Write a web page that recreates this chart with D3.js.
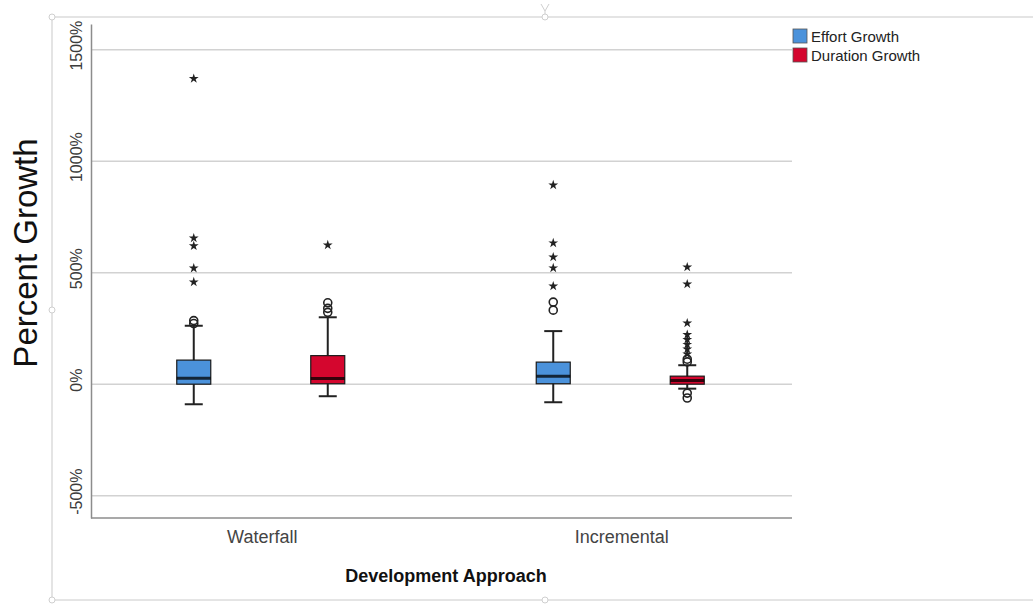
<!DOCTYPE html>
<html>
<head>
<meta charset="utf-8">
<script src="https://cdn.jsdelivr.net/npm/d3@7"></script>
<style>
	body { margin: 0; background: #fff; }
	svg { display: block; font-family: "Liberation Sans", Arial, sans-serif; }
</style>
</head>
<body>
<div id="chart"></div>
<script>
// categories and series
var approaches = ["Waterfall", "Incremental"];
var seriesNames = ["Effort Growth", "Duration Growth"];
var seriesColors = ["#4b92db", "#d4062e"];
var yTicks = [-500, 0, 500, 1000, 1500];

// box stats per approach, in series order: [low whisker, q1, median, q3, high whisker]
var waterfallStats = [[-90, 0, 27, 108, 262], [-54, 2, 25, 128, 300]];
var incrementalStats = [[-81, 2, 36, 99, 238], [-20, 0, 16, 36, 85]];

// outliers (circles) and extremes (stars)
var waterfallOutliers = [[272, 285], [322, 340, 365]];
var waterfallExtremes = [[1370, 655, 620, 520, 458], [624]];
var incrementalOutliers = [[332, 368], [100, 112, -40, -62]];
var incrementalExtremes = [[893, 633, 570, 521, 440], [525, 449, 274, 222, 200, 178, 157, 135]];

var statsByApproach = {"Waterfall": waterfallStats, "Incremental": incrementalStats};
var outliersByApproach = {"Waterfall": waterfallOutliers, "Incremental": incrementalOutliers};
var extremesByApproach = {"Waterfall": waterfallExtremes, "Incremental": incrementalExtremes};

var width = 1033, height = 606;
var plot = {left: 91, right: 792, top: 24, bottom: 518};
var boxWidth = 34, capWidth = 18;

var svg = d3.select("#chart").append("svg")
	.attr("width", width)
	.attr("height", height);

// frame of the selected chart object
var frame = svg.append("g").attr("class", "frame");
frame.append("rect")
	.attr("x", 52).attr("y", 17)
	.attr("width", 1000).attr("height", 583)
	.attr("fill", "none")
	.attr("stroke", "#dcdcdc")
	.attr("stroke-width", 1.5);
[[52, 17], [545, 17], [52, 310], [52, 600], [545, 600]].forEach(function(p) {
	frame.append("circle")
		.attr("cx", p[0]).attr("cy", p[1]).attr("r", 3)
		.attr("fill", "#fff")
		.attr("stroke", "#cfcfcf");
});
frame.append("path")
	.attr("d", "M541,4L545,11L549,4M545,11L545,14")
	.attr("fill", "none")
	.attr("stroke", "#cfcfcf");

var x = d3.scalePoint()
	.domain(approaches)
	.range([plot.left, plot.right])
	.padding(0.475);

var xSeries = d3.scalePoint()
	.domain(seriesNames)
	.range([-68, 66]);

var y = d3.scaleLinear()
	.domain([-600, 1615])
	.range([plot.bottom, plot.top]);

// gridlines
svg.append("g")
	.selectAll("line")
	.data(yTicks)
	.enter()
	.append("line")
	.attr("x1", plot.left).attr("x2", plot.right)
	.attr("y1", function(d) { return y(d); })
	.attr("y2", function(d) { return y(d); })
	.attr("stroke", "#d2d2d2")
	.attr("stroke-width", 1.5);

// y axis
var yAxis = svg.append("g")
	.attr("transform", "translate(" + plot.left + ",0)")
	.call(d3.axisLeft(y).tickValues(yTicks).tickSize(0).tickFormat(function(d) { return d + "%"; }));
yAxis.select(".domain").attr("stroke", "#8c8c8c").attr("stroke-width", 1.5);
yAxis.selectAll("text")
	.attr("transform", function(d) { return "translate(-9," + (y(d) - 4) + ") rotate(-90)"; })
	.attr("x", 0).attr("y", 0).attr("dy", 0)
	.attr("text-anchor", "middle")
	.attr("fill", "#3c3c3c")
	.style("font-size", "16px");
yAxis.selectAll(".tick").attr("transform", null);

// x axis
var xAxis = svg.append("g")
	.attr("transform", "translate(0," + plot.bottom + ")")
	.call(d3.axisBottom(x).tickSize(0).tickPadding(12));
xAxis.select(".domain").attr("stroke", "#8c8c8c").attr("stroke-width", 1.5)
	.attr("d", "M" + plot.left + ",0H" + plot.right);
xAxis.selectAll("text")
	.attr("fill", "#444")
	.style("font-size", "18px");

// titles
svg.append("text")
	.attr("transform", "translate(37,253) rotate(-90)")
	.attr("text-anchor", "middle")
	.attr("fill", "#111")
	.style("font-size", "33px")
	.text("Percent Growth");

svg.append("text")
	.attr("x", 446).attr("y", 582)
	.attr("text-anchor", "middle")
	.attr("fill", "#111")
	.style("font-size", "18px")
	.style("font-weight", "bold")
	.text("Development Approach");

// boxes
var boxData = [];
approaches.forEach(function(a) {
	seriesNames.forEach(function(s, i) {
		boxData.push({
			approach: a,
			series: s,
			color: seriesColors[i],
			stats: statsByApproach[a][i],
			outliers: outliersByApproach[a][i],
			extremes: extremesByApproach[a][i]
		});
	});
});

var box = svg.append("g").selectAll("g.box")
	.data(boxData)
	.enter()
	.append("g")
	.attr("class", "box")
	.attr("transform", function(d) { return "translate(" + (x(d.approach) + xSeries(d.series)) + ",0)"; });

// whiskers
box.append("line")
	.attr("x1", 0).attr("x2", 0)
	.attr("y1", function(d) { return y(d.stats[0]); })
	.attr("y2", function(d) { return y(d.stats[4]); })
	.attr("stroke", "#222").attr("stroke-width", 2);
box.selectAll("line.cap")
	.data(function(d) { return [d.stats[0], d.stats[4]]; })
	.enter()
	.append("line")
	.attr("class", "cap")
	.attr("x1", -capWidth / 2).attr("x2", capWidth / 2)
	.attr("y1", function(v) { return y(v); })
	.attr("y2", function(v) { return y(v); })
	.attr("stroke", "#222").attr("stroke-width", 2);

box.append("rect")
	.attr("x", -boxWidth / 2)
	.attr("width", boxWidth)
	.attr("y", function(d) { return y(d.stats[3]); })
	.attr("height", function(d) { return y(d.stats[1]) - y(d.stats[3]); })
	.attr("fill", function(d) { return d.color; })
	.attr("stroke", "#1a1a1a")
	.attr("stroke-width", 1.2);

box.append("line")
	.attr("x1", -boxWidth / 2).attr("x2", boxWidth / 2)
	.attr("y1", function(d) { return y(d.stats[2]); })
	.attr("y2", function(d) { return y(d.stats[2]); })
	.attr("stroke", "#000").attr("stroke-opacity", 0.75)
	.attr("stroke-width", 3);

// outliers
box.selectAll("circle.outlier")
	.data(function(d) { return d.outliers; })
	.enter()
	.append("circle")
	.attr("class", "outlier")
	.attr("cx", 0)
	.attr("cy", function(v) { return y(v); })
	.attr("r", 4)
	.attr("fill", "none")
	.attr("stroke", "#222")
	.attr("stroke-width", 1.6);

// extremes
var star = d3.symbol().type(d3.symbolStar).size(30);
box.selectAll("path.extreme")
	.data(function(d) { return d.extremes; })
	.enter()
	.append("path")
	.attr("class", "extreme")
	.attr("d", star)
	.attr("transform", function(v) { return "translate(0," + y(v) + ")"; })
	.attr("fill", "#222");

// legend
var legend = svg.append("g").selectAll("g")
	.data(seriesNames)
	.enter()
	.append("g")
	.attr("transform", function(d, i) { return "translate(793," + (29 + i * 19) + ")"; });
legend.append("rect")
	.attr("width", 14).attr("height", 14)
	.attr("fill", function(d, i) { return seriesColors[i]; })
	.attr("stroke", "#555").attr("stroke-width", 0.8);
legend.append("text")
	.attr("x", 18).attr("y", 12.5)
	.attr("fill", "#222")
	.style("font-family", "'Liberation Sans Narrow', 'Arial Narrow', sans-serif")
	.style("font-size", "15px")
	.text(function(d) { return d; });
</script>
</body>
</html>
